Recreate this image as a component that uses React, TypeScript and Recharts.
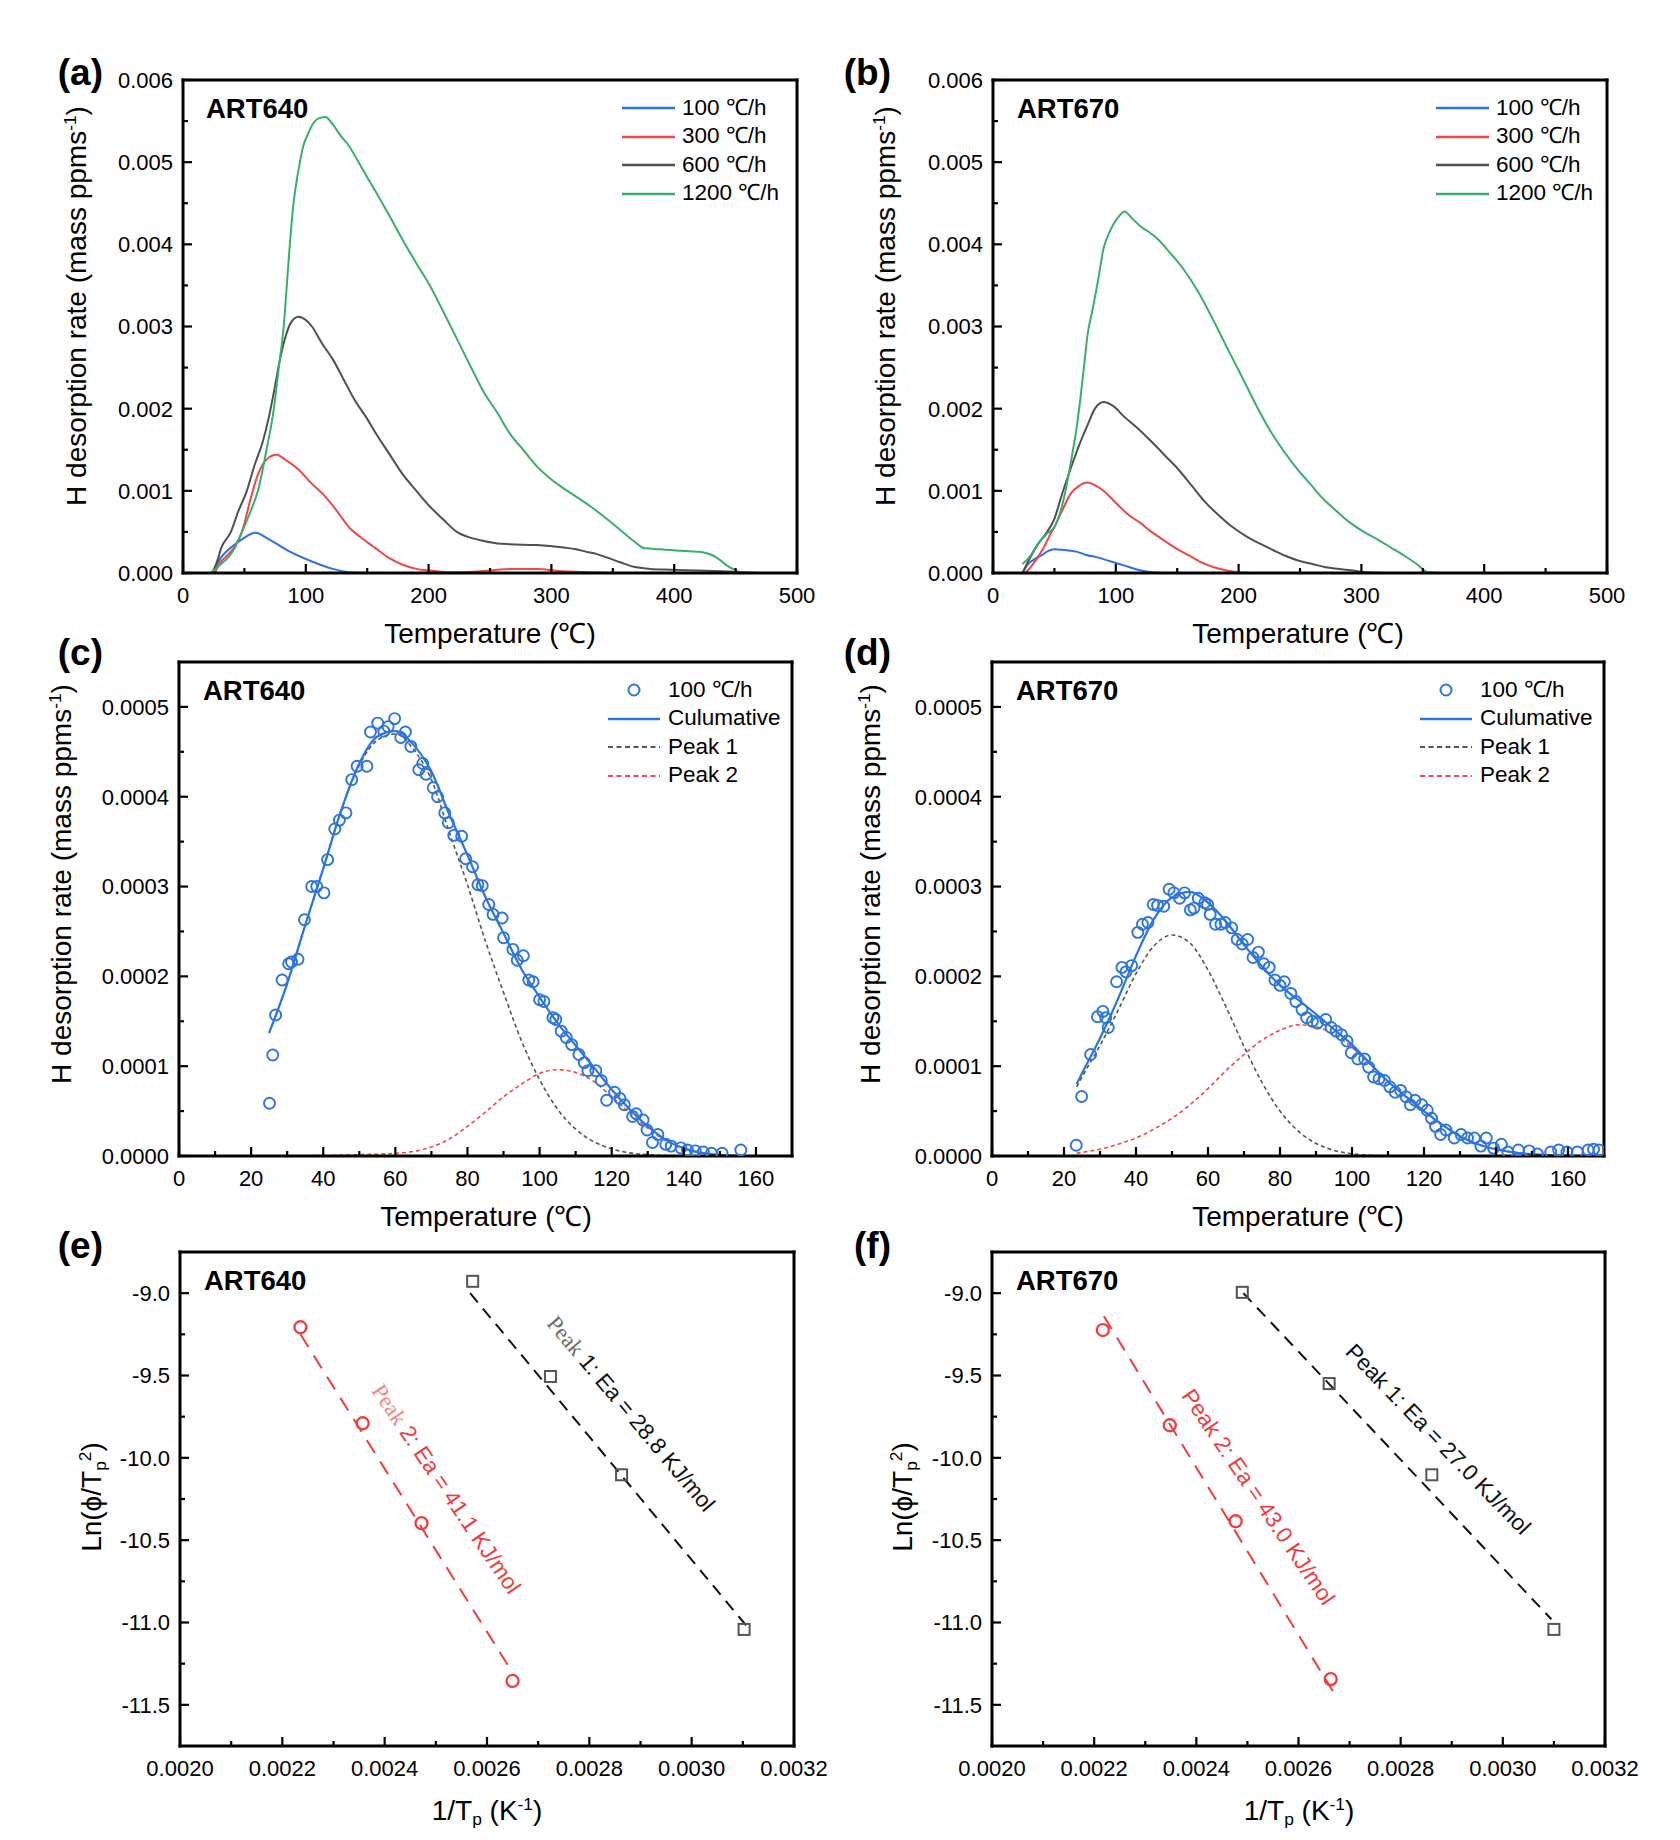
import React from 'react';
import { ComposedChart, Line, Scatter, XAxis, YAxis, Legend } from 'recharts';

type P = [number, number];

// ---------- (a) ART640 : desorption rate vs temperature ----------
const A_100: P[] = [[24,0],[31,0.00019],[39,0.00031],[48,0.00041],[59,0.00049],[70,0.00041],[87,0.00026],[105,0.00014],[122,0.00005],[135,0.00001],[150,0],[500,0]];
const A_300: P[] = [[26,0],[30,0.00012],[35,0.0002],[42,0.00032],[48,0.0005],[55,0.0009],[61,0.0012],[68,0.00138],[76,0.00144],[85,0.00136],[94,0.00126],[104,0.0011],[114,0.00096],[125,0.00076],[135,0.00056],[146,0.00042],[157,0.0003],[168,0.00018],[179,0.0001],[190,0.00005],[201,0.00003],[215,0.00001],[230,0.00001],[250,0.00003],[266,0.00005],[288,0.00005],[310,0.00002],[330,0.00001],[360,0],[500,0]];
const A_600: P[] = [[24,0],[28,0.00015],[31,0.0003],[39,0.0005],[45,0.00075],[52,0.001],[58,0.0013],[65,0.0016],[70,0.0019],[74,0.0022],[79,0.0026],[83,0.00285],[88,0.00305],[94,0.00312],[100,0.00308],[105,0.003],[113,0.0028],[122,0.0026],[131,0.00235],[140,0.0021],[149,0.0019],[157,0.0017],[168,0.00145],[179,0.0012],[190,0.001],[201,0.00081],[212,0.00065],[223,0.0005],[234,0.00043],[245,0.00039],[256,0.00036],[266,0.00035],[288,0.00034],[310,0.00031],[320,0.00029],[328,0.00026],[337,0.00023],[345,0.00019],[356,0.00013],[367,0.000075],[380,0.00005],[397,0.00004],[420,0.00003],[440,0.00002],[454,0.00001],[470,0],[500,0]];
const A_1200: P[] = [[22,0],[26,0.00004],[30,0.0001],[35,0.00016],[42,0.0003],[48,0.0005],[55,0.00075],[61,0.001],[68,0.0015],[74,0.002],[78,0.0025],[82,0.003],[85,0.0036],[87,0.004],[90,0.0045],[94,0.0049],[98,0.0052],[102,0.00535],[106,0.00547],[110,0.00553],[116,0.00555],[122,0.00546],[128,0.00533],[135,0.0052],[146,0.00492],[157,0.00464],[168,0.00435],[179,0.00405],[190,0.00377],[201,0.0035],[212,0.00318],[223,0.00285],[234,0.00252],[245,0.0022],[256,0.00195],[266,0.0017],[277,0.0015],[288,0.0013],[299,0.00115],[310,0.00103],[321,0.00092],[332,0.00081],[345,0.00066],[358,0.0005],[367,0.00039],[376,0.0003],[389,0.00029],[406,0.00027],[424,0.00025],[432,0.00021],[438,0.00015],[443,0.00009],[449,0.00004],[454,0.00001],[470,0],[500,0]];

// ---------- (b) ART670 ----------
const B_100: P[] = [[24,0],[28,0.0001],[33,0.00016],[40,0.00022],[45,0.00027],[50,0.00029],[58,0.00028],[68,0.00026],[76,0.00022],[85,0.00019],[96,0.00014],[107,0.00009],[118,0.00004],[129,0.00001],[140,0],[500,0]];
const B_300: P[] = [[26,0],[30,0.00006],[35,0.00016],[41,0.0003],[46,0.00045],[50,0.00056],[56,0.00075],[63,0.00096],[70,0.00106],[77,0.0011],[84,0.00106],[90,0.001],[97,0.0009],[103,0.00081],[111,0.0007],[120,0.00061],[129,0.0005],[138,0.00041],[149,0.0003],[160,0.00021],[171,0.00012],[182,0.00006],[190,0.00003],[199,0.00001],[210,0],[500,0]];
const B_600: P[] = [[24,0],[30,0.00018],[37,0.00036],[44,0.0005],[50,0.00066],[56,0.00095],[63,0.00126],[70,0.00155],[77,0.0018],[83,0.002],[90,0.00208],[98,0.00203],[107,0.0019],[118,0.00176],[129,0.0016],[140,0.00143],[151,0.00126],[162,0.00106],[173,0.00086],[184,0.0007],[195,0.00056],[206,0.00045],[217,0.00036],[228,0.00028],[238,0.00021],[249,0.00015],[260,0.00011],[271,0.00007],[282,0.00005],[293,0.00003],[304,0.00001],[320,0],[500,0]];
const B_1200: P[] = [[24,0.00011],[30,0.0002],[37,0.00036],[44,0.00048],[50,0.00056],[55,0.00075],[59,0.001],[64,0.0014],[68,0.00176],[71,0.0021],[74,0.0025],[77,0.0029],[81,0.0032],[86,0.0036],[90,0.00395],[94,0.00412],[98,0.00424],[103,0.00435],[107,0.0044],[113,0.00432],[120,0.00422],[127,0.00415],[133,0.00408],[144,0.0039],[155,0.0037],[168,0.0034],[182,0.003],[192,0.0027],[203,0.00238],[214,0.00205],[225,0.00175],[236,0.0015],[247,0.00128],[258,0.00109],[269,0.0009],[280,0.00075],[291,0.00061],[302,0.0005],[313,0.00041],[324,0.00031],[335,0.00021],[345,0.00011],[354,0.00001],[365,0],[500,0]];

// ---------- (c) ART640 100 ℃/h peak fitting ----------
const C_OBS: P[] = [[25.1,0.0000587],[26.0,0.0001125],[26.8,0.000157],[28.6,0.000196],[30.4,0.000214],[31.2,0.000216],[33.0,0.000219],[34.8,0.000263],[36.8,0.0003],[38.2,0.0003],[40.2,0.000293],[41.2,0.00033],[43.2,0.000364],[44.5,0.000374],[46.3,0.000382],[47.9,0.000419],[49.4,0.000434],[52.1,0.000434],[53.1,0.000472],[55.1,0.000482],[56.8,0.000473],[58.0,0.000478],[59.8,0.000487],[61.5,0.000466],[62.8,0.000472],[64.3,0.000456],[66.5,0.00043],[67.6,0.000437],[68.5,0.000425],[70.5,0.00041],[71.7,0.0004],[73.7,0.000382],[74.7,0.000371],[76.2,0.000357],[78.4,0.000356],[79.5,0.000331],[81.4,0.000322],[82.9,0.000302],[84.1,0.000301],[85.9,0.00028],[87.1,0.000269],[89.6,0.000265],[90.0,0.000243],[92.6,0.00023],[93.8,0.000218],[95.5,0.000223],[97.0,0.000196],[98.2,0.000194],[100.0,0.000174],[101.2,0.000172],[103.7,0.000154],[104.5,0.000152],[106.0,0.000139],[107.4,0.000132],[108.9,0.000124],[110.9,0.000113],[112.4,0.000104],[113.4,0.000095],[115.6,0.000095],[117.1,0.000084],[118.6,0.000062],[120.8,0.000071],[122.3,0.000064],[123.5,0.000057],[125.8,0.000044],[126.8,0.000047],[128.7,0.00004],[129.8,0.000029],[131.3,0.000015],[132.8,0.000024],[135.0,0.000013],[136.5,0.000011],[139.2,0.000009],[141.0,0.0000066],[143.2,0.0000057],[145.4,0.0000044],[147.7,0.000003],[150.6,0.000003],[155.8,0.0000066]];
const C_CUM: P[] = [[25,0.000137],[30,0.000192],[35,0.000257],[40,0.00032],[45,0.000385],[50,0.000437],[55,0.000467],[60,0.000473],[65,0.000458],[70,0.000428],[75,0.00038],[80,0.000335],[85,0.000288],[90,0.000248],[95,0.000208],[100,0.000177],[105,0.000148],[110,0.000123],[115,0.000099],[120,0.000074],[125,0.000052],[130,0.000033],[135,0.000018],[140,0.0000085],[145,0.0000035],[150,0.0000013],[155,0.0000004]];
const C_PK1: P[] = [[25,0.000137],[30,0.000192],[35,0.000257],[40,0.00032],[45,0.000385],[50,0.000435],[55,0.000463],[60,0.00047],[65,0.000453],[70,0.000419],[75,0.00036],[80,0.000302],[85,0.000239],[90,0.000182],[95,0.000128],[100,0.000085],[105,0.000052],[110,0.00003],[115,0.000016],[120,0.000008],[125,0.0000035],[130,0.0000015],[135,0.0000005],[140,0.0000002],[145,0],[155,0]];
const C_PK2: P[] = [[25,0],[40,0.0000005],[50,0.0000015],[55,0.000002],[60,0.000003],[65,0.000005],[70,0.00001],[75,0.000019],[80,0.000033],[85,0.000049],[90,0.000066],[95,0.00008],[100,0.000092],[105,0.000096],[110,0.000093],[115,0.000083],[120,0.000066],[125,0.000048],[130,0.000031],[135,0.000017],[140,0.000008],[145,0.0000035],[150,0.0000013],[155,0.0000004]];

// ---------- (d) ART670 100 ℃/h peak fitting ----------
const D_OBS: P[] = [[23.4,0.0000119],[24.9,0.0000662],[27.4,0.000113],[29.3,0.000155],[30.8,0.000161],[31.6,0.000154],[32.3,0.000143],[34.6,0.000194],[36.1,0.00021],[37.2,0.000205],[38.8,0.000212],[40.5,0.000249],[41.8,0.000258],[43.3,0.00026],[44.8,0.00028],[46.0,0.000279],[47.7,0.000278],[49.2,0.000297],[50.5,0.000293],[52.1,0.000287],[53.5,0.000293],[55.1,0.000274],[56.1,0.000276],[57.3,0.000287],[59.1,0.000282],[59.9,0.00028],[60.6,0.000269],[62.1,0.000258],[63.6,0.000258],[64.8,0.00026],[66.6,0.000254],[68.1,0.000241],[69.5,0.000236],[71.0,0.000241],[72.5,0.000221],[74.0,0.000227],[75.5,0.000214],[77.0,0.00021],[78.6,0.000196],[80.0,0.00019],[81.2,0.000194],[83.0,0.000181],[84.4,0.000172],[86.1,0.000163],[87.4,0.000154],[89.0,0.00015],[90.4,0.000148],[92.7,0.000152],[94.2,0.000143],[95.6,0.000139],[97.1,0.000135],[98.6,0.000128],[99.8,0.000115],[101.6,0.000108],[103.5,0.000108],[104.6,0.000099],[106.0,0.000088],[107.5,0.000086],[109.0,0.000084],[110.5,0.000077],[112.0,0.000071],[113.5,0.000073],[115.0,0.000066],[116.2,0.000057],[117.5,0.000062],[119.4,0.000057],[120.9,0.000051],[122.1,0.000042],[123.2,0.000033],[124.6,0.000024],[126.1,0.000029],[128.4,0.00002],[130.3,0.000024],[132.1,0.00002],[134.0,0.00002],[135.8,0.000011],[137.3,0.00002],[139.3,0.0000088],[141.5,0.000013],[143.3,0.0000044],[146.2,0.0000066],[149.2,0.0000057],[151.5,0.0000022],[155.2,0.0000044],[157.4,0.0000066],[159.7,0.0000044],[162.6,0.0000044],[165.6,0.0000066],[167.1,0.0000075],[168.6,0.0000066]];
const D_CUM: P[] = [[23.5,0.00008],[25,0.000092],[30,0.000131],[35,0.000175],[40,0.000223],[45,0.000264],[50,0.000288],[55,0.000294],[60,0.000282],[65,0.000261],[70,0.000235],[75,0.000211],[80,0.00019],[85,0.000174],[90,0.000158],[95,0.000141],[100,0.000124],[105,0.000103],[110,0.000083],[115,0.000066],[120,0.00005],[125,0.000035],[130,0.000022],[135,0.000013],[140,0.0000075],[145,0.000004],[150,0.000002],[155,0.0000008],[160,0.0000003],[169,0]];
const D_PK1: P[] = [[23.5,0.000077],[25,0.000088],[30,0.000123],[35,0.000162],[40,0.000203],[45,0.000234],[50,0.000246],[55,0.000237],[60,0.000207],[65,0.000166],[70,0.000122],[75,0.000082],[80,0.00005],[85,0.000028],[90,0.000014],[95,0.0000062],[100,0.0000025],[105,0.0000009],[110,0.0000003],[120,0]];
const D_PK2: P[] = [[23.5,0.000003],[25,0.000004],[30,0.0000075],[35,0.000013],[40,0.00002],[45,0.00003],[50,0.000042],[55,0.000057],[60,0.000075],[65,0.000095],[70,0.000113],[75,0.000129],[80,0.00014],[85,0.000146],[90,0.000144],[95,0.000135],[100,0.000121],[105,0.000102],[110,0.000083],[115,0.000066],[120,0.00005],[125,0.000035],[130,0.000022],[135,0.000013],[140,0.0000075],[145,0.000004],[150,0.000002],[155,0.0000008],[160,0.0000003],[169,0]];

// ---------- (e) ART640 Kissinger plot ----------
const E_PK1: P[] = [[0.002572,-8.928],[0.002724,-9.506],[0.002863,-10.103],[0.0031025,-11.042]];
const E_FIT1: P[] = [[0.002567,-9.0],[0.003107,-11.02]];
const E_PK2: P[] = [[0.0022354,-9.207],[0.002357,-9.79],[0.002472,-10.397],[0.00265,-11.355]];
const E_FIT2: P[] = [[0.0022354,-9.25],[0.002643,-11.27]];

// ---------- (f) ART670 Kissinger plot ----------
const F_PK1: P[] = [[0.00249,-8.995],[0.00266,-9.549],[0.002861,-10.103],[0.0031,-11.042]];
const F_FIT1: P[] = [[0.002492,-9.0],[0.003095,-10.98]];
const F_PK2: P[] = [[0.002217,-9.224],[0.002348,-9.802],[0.002477,-10.385],[0.002663,-11.344]];
const F_FIT2: P[] = [[0.002219,-9.14],[0.002667,-11.416]];

// annotation anchors (data coordinates)
const E_NOTE1: P[] = [[0.002882, -9.73]];
const E_NOTE2: P[] = [[0.002521, -10.187]];
const F_NOTE1: P[] = [[0.002874, -9.886]];
const F_NOTE2: P[] = [[0.002522, -10.236]];

// ---------- ticks ----------
const T_X_MAJOR = [0, 100, 200, 300, 400, 500];
const T_X_MINOR = [50, 150, 250, 350, 450];
const T_Y_MAJOR = [0, 0.001, 0.002, 0.003, 0.004, 0.005, 0.006];
const T_Y_MINOR = [0.0005, 0.0015, 0.0025, 0.0035, 0.0045, 0.0055];
const F_X_MAJOR = [0, 20, 40, 60, 80, 100, 120, 140, 160];
const F_X_MINOR = [10, 30, 50, 70, 90, 110, 130, 150];
const F_Y_MAJOR = [0, 0.0001, 0.0002, 0.0003, 0.0004, 0.0005];
const F_Y_MINOR = [0.00005, 0.00015, 0.00025, 0.00035, 0.00045];
const K_X_MAJOR = [0.002, 0.0022, 0.0024, 0.0026, 0.0028, 0.003, 0.0032];
const K_X_MINOR = [0.0021, 0.0023, 0.0025, 0.0027, 0.0029, 0.0031];
const K_Y_MAJOR = [-9.0, -9.5, -10.0, -10.5, -11.0, -11.5];
const K_Y_MINOR = [-9.25, -9.75, -10.25, -10.75, -11.25];

const RATE_LABELS = ['100 ℃/h', '300 ℃/h', '600 ℃/h', '1200 ℃/h'];
const FIT_LABELS = ['100 ℃/h', 'Culumative', 'Peak 1', 'Peak 2'];

const toPts = (arr: P[]) => arr.map(([t, v]) => ({ t, v }));

const FONT = '"Liberation Sans", Arial, Helvetica, sans-serif';
const SERIF = '"Liberation Serif", "Times New Roman", serif';
const BLUE = '#2F6FDF';
const RED = '#F0474A';
const GRAY = '#505050';
const GREEN = '#3AAE6B';
const PBLUE = '#2C74E0';
const KRED = '#F03C3C';
const AXIS_LINE = { stroke: '#000', strokeWidth: 3, strokeLinecap: 'square' as const };

// outer margins (the 1px axis boxes are subtracted so the plot area stays put)
const ML = 150, MT = 30, MR = 48, MB = 60;

const isIn = (arr: number[], v: number) => arr.some((m) => Math.abs(m - v) < 1e-9);

function makeXTick(majors: number[], fmt: (v: number) => string) {
  return (props: any) => {
    const { x, y, payload } = props;
    const v = payload ? payload.value : 0;
    const major = isIn(majors, v);
    return (
      <g>
        <line x1={x} x2={x} y1={y} y2={y - (major ? 9 : 5)} stroke="#000" strokeWidth={2.2} />
        {major && (
          <text x={x} y={y + 30} textAnchor="middle" fontSize={22} fontFamily={FONT} fill="#000">
            {fmt(v)}
          </text>
        )}
      </g>
    );
  };
}

function makeYTick(majors: number[], fmt: (v: number) => string) {
  return (props: any) => {
    const { x, y, payload } = props;
    const v = payload ? payload.value : 0;
    const major = isIn(majors, v);
    return (
      <g>
        <line x1={x} x2={x + (major ? 9 : 5)} y1={y} y2={y} stroke="#000" strokeWidth={2.2} />
        {major && (
          <text x={x - 10} y={y} dy="0.36em" textAnchor="end" fontSize={22} fontFamily={FONT} fill="#000">
            {fmt(v)}
          </text>
        )}
      </g>
    );
  };
}

function axes(
  xDom: [number, number], xMaj: number[], xMin: number[], xFmt: (v: number) => string,
  yDom: [number, number], yMaj: number[], yMin: number[], yFmt: (v: number) => string,
) {
  return [
    <XAxis key="x" xAxisId={0} type="number" dataKey="t" domain={xDom} ticks={[...xMaj, ...xMin]} interval={0}
      allowDataOverflow height={1} tickSize={0} tickMargin={0} tickLine={false} axisLine={AXIS_LINE}
      tick={makeXTick(xMaj, xFmt)} />,
    <XAxis key="xt" xAxisId="top" orientation="top" type="number" domain={xDom} allowDataOverflow height={1}
      tick={false} tickLine={false} axisLine={AXIS_LINE} />,
    <YAxis key="y" yAxisId={0} type="number" dataKey="v" domain={yDom} ticks={[...yMaj, ...yMin]} interval={0}
      allowDataOverflow width={1} tickSize={0} tickMargin={0} tickLine={false} axisLine={AXIS_LINE}
      tick={makeYTick(yMaj, yFmt)} />,
    <YAxis key="yr" yAxisId="right" orientation="right" type="number" domain={yDom} allowDataOverflow width={1}
      tick={false} tickLine={false} axisLine={AXIS_LINE} />,
  ];
}

type Row = { label: string; kind: 'line' | 'dash' | 'circle'; color: string };

function LegendBox({ rows, lineW, gap }: { rows: Row[]; lineW: number; gap: number }) {
  return (
    <div style={{ fontFamily: FONT, fontSize: 22.5, color: '#000', lineHeight: 1 }}>
      {rows.map((r, i) => (
        <div key={i} style={{ display: 'flex', alignItems: 'center', height: 28.5, whiteSpace: 'nowrap' }}>
          <svg width={lineW} height={16} style={{ marginRight: gap, flex: 'none' }}>
            {r.kind === 'line' && <line x1={0} x2={lineW} y1={8} y2={8} stroke={r.color} strokeWidth={2.4} />}
            {r.kind === 'dash' && <line x1={0} x2={lineW} y1={8} y2={8} stroke={r.color} strokeWidth={2} strokeDasharray="5 3.5" />}
            {r.kind === 'circle' && <circle cx={lineW / 2} cy={8} r={5.5} fill="none" stroke={r.color} strokeWidth={2} />}
          </svg>
          <span>{r.label}</span>
        </div>
      ))}
    </div>
  );
}

const legendStyle = (x: number, y: number) => ({
  position: 'absolute' as const, left: x, top: y, width: 260, height: 0, bottom: 'auto', right: 'auto', overflow: 'visible' as const,
});

type Box = { L: number; T: number; W: number; H: number };
const BOX_A: Box = { L: 183, T: 80, W: 614, H: 493 };
const BOX_B: Box = { L: 993, T: 80, W: 614, H: 493 };
const BOX_C: Box = { L: 179, T: 662, W: 613, H: 494 };
const BOX_D: Box = { L: 992, T: 662, W: 612, H: 494 };
const BOX_E: Box = { L: 180, T: 1252, W: 614, H: 494 };
const BOX_F: Box = { L: 992, T: 1252, W: 613, H: 494 };

function Chart({ box, children }: { box: Box; children: React.ReactNode }) {
  return (
    <div style={{ position: 'absolute', left: box.L - ML, top: box.T - MT }}>
      <ComposedChart width={box.W + ML + MR} height={box.H + MT + MB}
        margin={{ top: MT - 1, right: MR - 1, bottom: MB - 1, left: ML - 1 }}>
        {children}
      </ComposedChart>
    </div>
  );
}

const fmt0 = (v: number) => String(Math.round(v));
const fmt3 = (v: number) => v.toFixed(3);
const fmt4 = (v: number) => v.toFixed(4);
const fmt1 = (v: number) => v.toFixed(1);

function rateChart(box: Box, s: P[][], legendX: number, legendY: number) {
  const colors = [BLUE, RED, GRAY, GREEN];
  const rows: Row[] = RATE_LABELS.map((l, i) => ({ label: l, kind: 'line', color: colors[i] }));
  return (
    <Chart box={box}>
      {axes([0, 500], T_X_MAJOR, T_X_MINOR, fmt0, [0, 0.006], T_Y_MAJOR, T_Y_MINOR, fmt3)}
      {s.map((arr, i) => (
        <Line key={i} data={toPts(arr)} dataKey="v" name={RATE_LABELS[i]} type="monotone" stroke={colors[i]}
          strokeWidth={2} dot={false} activeDot={false} isAnimationActive={false} />
      ))}
      <Legend content={() => <LegendBox rows={rows} lineW={53} gap={7} />}
        wrapperStyle={legendStyle(legendX - (box.L - ML), legendY - (box.T - MT))} />
    </Chart>
  );
}

const openCircle = (color: string, r: number, sw: number) => (p: any) =>
  <circle cx={p.cx} cy={p.cy} r={r} fill="none" stroke={color} strokeWidth={sw} />;
const openSquare = (color: string, s: number, sw: number) => (p: any) =>
  <rect x={p.cx - s / 2} y={p.cy - s / 2} width={s} height={s} fill="none" stroke={color} strokeWidth={sw} />;

function fitChart(box: Box, obs: P[], cum: P[], pk1: P[], pk2: P[], legendX: number, legendY: number) {
  const rows: Row[] = [
    { label: FIT_LABELS[0], kind: 'circle', color: PBLUE },
    { label: FIT_LABELS[1], kind: 'line', color: PBLUE },
    { label: FIT_LABELS[2], kind: 'dash', color: '#555' },
    { label: FIT_LABELS[3], kind: 'dash', color: RED },
  ];
  return (
    <Chart box={box}>
      {axes([0, 170], F_X_MAJOR, F_X_MINOR, fmt0, [0, 0.00055], F_Y_MAJOR, F_Y_MINOR, fmt4)}
      <Line data={toPts(pk1)} dataKey="v" name={FIT_LABELS[2]} type="monotone" stroke="#555" strokeWidth={1.6}
        strokeDasharray="4 3" dot={false} activeDot={false} isAnimationActive={false} />
      <Line data={toPts(pk2)} dataKey="v" name={FIT_LABELS[3]} type="monotone" stroke={RED} strokeWidth={1.6}
        strokeDasharray="4 3" dot={false} activeDot={false} isAnimationActive={false} />
      <Scatter data={toPts(obs)} dataKey="v" name={FIT_LABELS[0]} shape={openCircle(PBLUE, 5.5, 1.9)} isAnimationActive={false} />
      <Line data={toPts(cum)} dataKey="v" name={FIT_LABELS[1]} type="monotone" stroke={PBLUE} strokeWidth={2.2}
        dot={false} activeDot={false} isAnimationActive={false} />
      <Legend content={() => <LegendBox rows={rows} lineW={52} gap={8} />}
        wrapperStyle={legendStyle(legendX - (box.L - ML), legendY - (box.T - MT))} />
    </Chart>
  );
}

type Part = { text: string; serif?: boolean; fill: string };
const note = (parts: Part[], angle: number) => (p: any) => (
  <text transform={`translate(${p.cx},${p.cy}) rotate(${angle})`} textAnchor="middle" dominantBaseline="central"
    fontSize={22.5} fontFamily={FONT}>
    {parts.map((pt, i) => (
      <tspan key={i} fill={pt.fill} fontFamily={pt.serif ? SERIF : FONT}>{pt.text}</tspan>
    ))}
  </text>
);

function kissChart(box: Box, pk1: P[], fit1: P[], pk2: P[], fit2: P[], n1: P[], n2: P[], parts1: Part[], parts2: Part[], a1: number, a2: number) {
  return (
    <Chart box={box}>
      {axes([0.002, 0.0032], K_X_MAJOR, K_X_MINOR, fmt4, [-11.75, -8.75], K_Y_MAJOR, K_Y_MINOR, fmt1)}
      <Line data={toPts(fit1)} dataKey="v" type="linear" stroke="#111" strokeWidth={2} strokeDasharray="12 8"
        dot={false} activeDot={false} isAnimationActive={false} />
      <Line data={toPts(fit2)} dataKey="v" type="linear" stroke={KRED} strokeWidth={2} strokeDasharray="15 10"
        dot={false} activeDot={false} isAnimationActive={false} />
      <Scatter data={toPts(pk1)} dataKey="v" shape={openSquare('#555', 11, 2)} isAnimationActive={false} />
      <Scatter data={toPts(pk2)} dataKey="v" shape={openCircle(KRED, 6, 2.3)} isAnimationActive={false} />
      <Scatter data={toPts(n1)} dataKey="v" shape={note(parts1, a1)} isAnimationActive={false} />
      <Scatter data={toPts(n2)} dataKey="v" shape={note(parts2, a2)} isAnimationActive={false} />
    </Chart>
  );
}

const abs = (x: number, y: number, extra: React.CSSProperties = {}): React.CSSProperties => ({
  position: 'absolute', left: x, top: y, whiteSpace: 'nowrap', fontFamily: FONT, color: '#000', lineHeight: 1, ...extra,
});

function XTitle({ x, y, children }: { x: number; y: number; children: React.ReactNode }) {
  return <div style={abs(x, y, { fontSize: 28, transform: 'translate(-50%,-50%)' })}>{children}</div>;
}
function YTitle({ x, y, children }: { x: number; y: number; children: React.ReactNode }) {
  return <div style={abs(x, y, { fontSize: 28, transform: 'translate(-50%,-50%) rotate(-90deg)' })}>{children}</div>;
}
function PanelLetter({ right, y, children }: { right: number; y: number; children: React.ReactNode }) {
  return <div style={{ ...abs(0, y, { fontSize: 37, fontWeight: 'bold', transform: 'translate(-100%,-50%)' }), left: right }}>{children}</div>;
}
function Tag({ x, y, children }: { x: number; y: number; children: React.ReactNode }) {
  return <div style={abs(x, y, { fontSize: 27.5, fontWeight: 'bold', transform: 'translate(0,-50%)' })}>{children}</div>;
}

const supS: React.CSSProperties = { fontSize: '0.62em', verticalAlign: '0.6em', lineHeight: 0 };
const subS: React.CSSProperties = { fontSize: '0.62em', verticalAlign: '-0.3em', lineHeight: 0 };

const RateTitle = () => (<span>H desorption rate (mass ppms<span style={supS}>-1</span>)</span>);
const TempTitle = () => (<span>Temperature (℃)</span>);
const LnTitle = () => (<span>Ln(ϕ/T<span style={subS}>p</span><span style={supS}>2</span>)</span>);
const InvTitle = () => (<span>1/T<span style={subS}>p</span> (K<span style={supS}>-1</span>)</span>);

export default function App() {
  return (
    <div style={{ position: 'absolute', left: 0, top: 0, width: 1680, height: 1840, background: '#fff', overflow: 'hidden' }}>
      {rateChart(BOX_A, [A_100, A_300, A_600, A_1200], 622, 108 - 14.25)}
      {rateChart(BOX_B, [B_100, B_300, B_600, B_1200], 1436, 108 - 14.25)}
      {fitChart(BOX_C, C_OBS, C_CUM, C_PK1, C_PK2, 608, 690 - 14.25)}
      {fitChart(BOX_D, D_OBS, D_CUM, D_PK1, D_PK2, 1420, 690 - 14.25)}
      {kissChart(BOX_E, E_PK1, E_FIT1, E_PK2, E_FIT2, E_NOTE1, E_NOTE2,
        [{ text: 'Peak', serif: true, fill: '#6a6a6a' }, { text: ' 1: Ea = 28.8 KJ/mol', fill: '#111' }],
        [{ text: 'Peak', serif: true, fill: '#F58585' }, { text: ' 2: Ea = 41.1 KJ/mol', fill: KRED }], 50, 56)}
      {kissChart(BOX_F, F_PK1, F_FIT1, F_PK2, F_FIT2, F_NOTE1, F_NOTE2,
        [{ text: 'Peak 1: Ea = 27.0 KJ/mol', fill: '#111' }],
        [{ text: 'Peak 2: Ea = 43.0 KJ/mol', fill: KRED }], 46, 56)}

      <PanelLetter right={103} y={72}>(a)</PanelLetter>
      <PanelLetter right={891} y={72}>(b)</PanelLetter>
      <PanelLetter right={103} y={652}>(c)</PanelLetter>
      <PanelLetter right={891} y={652}>(d)</PanelLetter>
      <PanelLetter right={103} y={1245}>(e)</PanelLetter>
      <PanelLetter right={891} y={1245}>(f)</PanelLetter>

      <Tag x={206} y={109}>ART640</Tag>
      <Tag x={1017} y={109}>ART670</Tag>
      <Tag x={203} y={691}>ART640</Tag>
      <Tag x={1016} y={691}>ART670</Tag>
      <Tag x={204} y={1281}>ART640</Tag>
      <Tag x={1016} y={1281}>ART670</Tag>

      <XTitle x={490} y={634}><TempTitle /></XTitle>
      <XTitle x={1298} y={634}><TempTitle /></XTitle>
      <XTitle x={486} y={1217}><TempTitle /></XTitle>
      <XTitle x={1298} y={1217}><TempTitle /></XTitle>
      <XTitle x={487} y={1811}><InvTitle /></XTitle>
      <XTitle x={1299} y={1811}><InvTitle /></XTitle>

      <YTitle x={77} y={306}><RateTitle /></YTitle>
      <YTitle x={886} y={306}><RateTitle /></YTitle>
      <YTitle x={62} y={884}><RateTitle /></YTitle>
      <YTitle x={871} y={884}><RateTitle /></YTitle>
      <YTitle x={92} y={1497}><LnTitle /></YTitle>
      <YTitle x={903} y={1497}><LnTitle /></YTitle>
    </div>
  );
}
